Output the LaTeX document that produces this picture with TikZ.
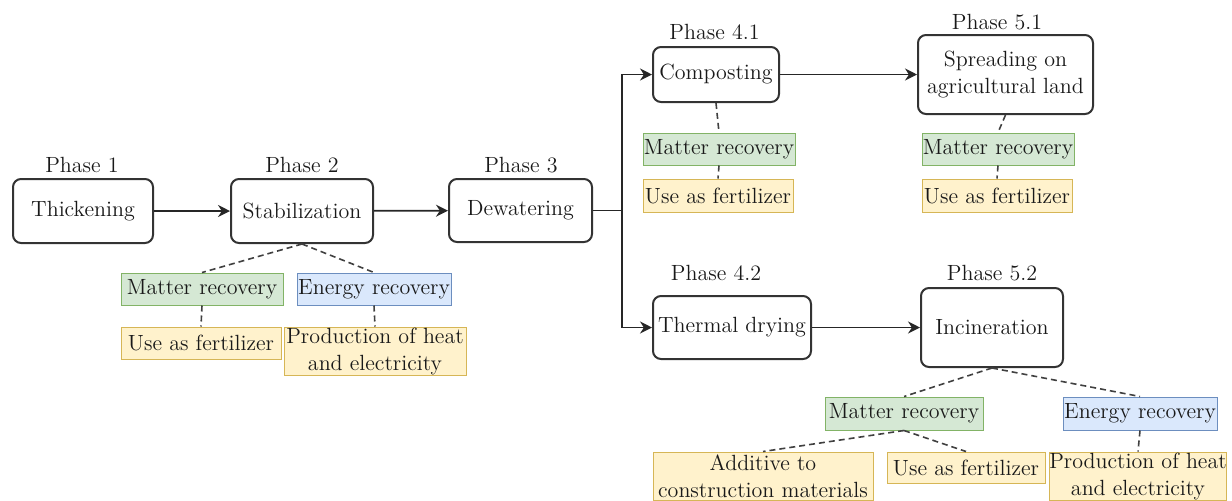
\documentclass[tikz,border=0pt]{standalone}
\usetikzlibrary{arrows.meta}
\definecolor{mfill}{HTML}{D5E8D4}
\definecolor{mline}{HTML}{82B366}
\definecolor{efill}{HTML}{DAE8FC}
\definecolor{eline}{HTML}{6C8EBF}
\definecolor{yfill}{HTML}{FFF2CC}
\definecolor{yline}{HTML}{D6B656}
\begin{document}
\begin{tikzpicture}[x=0.5pt,y=-0.5pt,
  every node/.style={font=\fontsize{11}{13.5}\selectfont, text=black!90},
  proc/.style={draw=black!80, line width=1pt, rounded corners=4pt, fill=white, align=center, inner sep=0pt},
  tag/.style={line width=0.5pt, align=center, inner sep=0pt},
  matter/.style={tag, fill=mfill, draw=mline},
  energy/.style={tag, fill=efill, draw=eline},
  use/.style={tag, fill=yfill, draw=yline},
  flow/.style={-{Stealth[length=6pt,width=6pt]}, line width=0.9pt, draw=black!85},
  link/.style={dash pattern=on 3pt off 2pt, line width=0.8pt, draw=black!75}
]
\useasboundingbox (0,0) rectangle (1232,500);

% process boxes
\node[proc, minimum width=70pt, minimum height=32pt] (thick) at (83,211) {Thickening};
\node[proc, minimum width=71pt, minimum height=32pt] (stab) at (302,211) {Stabilization};
\node[proc, minimum width=71.5pt, minimum height=31.5pt] (dew) at (520.5,210.5) {Dewatering};
\node[proc, minimum width=63pt, minimum height=27.5pt] (comp) at (716,74.5) {Composting};
\node[proc, minimum width=87.5pt, minimum height=39.5pt] (spread) at (1005.5,74.5) {Spreading on\\agricultural land};
\node[proc, minimum width=79pt, minimum height=31.5pt] (therm) at (732,327.5) {Thermal drying};
\node[proc, minimum width=71pt, minimum height=39.5pt] (incin) at (992,327.5) {Incineration};

% phase labels
\node (l1) at (82,165) {Phase 1};
\node (l2) at (302,165) {Phase 2};
\node (l3) at (521,165) {Phase 3};
\node (l41) at (714.5,32) {Phase 4.1};
\node (l51) at (997,22) {Phase 5.1};
\node (l42) at (716,273) {Phase 4.2};
\node (l52) at (992,273) {Phase 5.2};

% recovery tags
\node[matter, minimum width=81pt, minimum height=16pt] (m1) at (202,289) {Matter recovery};
\node[energy, minimum width=77pt, minimum height=16pt] (e1) at (374,289) {Energy recovery};
\node[use, minimum width=80pt, minimum height=16pt] (f1) at (201,343) {Use as fertilizer};
\node[use, minimum width=91pt, minimum height=24pt] (p1) at (375,351) {Production of heat\\and electricity};

\node[matter, minimum width=76pt, minimum height=16pt] (m2) at (719,149) {Matter recovery};
\node[use, minimum width=75pt, minimum height=16.5pt] (f2) at (718,195.5) {Use as fertilizer};

\node[matter, minimum width=76pt, minimum height=16pt] (m3) at (998,149) {Matter recovery};
\node[use, minimum width=75pt, minimum height=16.5pt] (f3) at (997,195.5) {Use as fertilizer};

\node[matter, minimum width=79pt, minimum height=16.5pt] (m4) at (904,413.5) {Matter recovery};
\node[energy, minimum width=77pt, minimum height=16.5pt] (e4) at (1140,413.5) {Energy recovery};
\node[use, minimum width=110pt, minimum height=24pt] (a4) at (763,476) {Additive to\\construction materials};
\node[use, minimum width=79pt, minimum height=15.5pt] (f4) at (966,467.5) {Use as fertilizer};
\node[use, minimum width=87pt, minimum height=24pt] (p4) at (1138,476) {Production of heat\\and electricity};

% flow arrows
\coordinate (br) at (622,210.5);
\draw[flow] (thick) -- (stab);
\draw[flow] (stab) -- (dew);
\draw[flow] (dew.east) -- (br) |- (comp.west);
\draw[flow] (br) |- (therm.west);
\draw[flow] (comp) -- (spread);
\draw[flow] (therm) -- (incin);

% dashed links
\draw[link] (stab.south) -- (m1.north);
\draw[link] (stab.south) -- (e1.north);
\draw[link] (m1.south) -- (f1.north);
\draw[link] (e1.south) -- (p1.north);
\draw[link] (comp.south) -- (m2.north);
\draw[link] (m2.south) -- (f2.north);
\draw[link] (spread.south) -- (m3.north);
\draw[link] (m3.south) -- (f3.north);
\draw[link] (incin.south) -- (m4.north);
\draw[link] (incin.south) -- (e4.north);
\draw[link] (m4.south) -- (a4.north);
\draw[link] (m4.south) -- (f4.north);
\draw[link] (e4.south) -- (p4.north);
\end{tikzpicture}
\end{document}
